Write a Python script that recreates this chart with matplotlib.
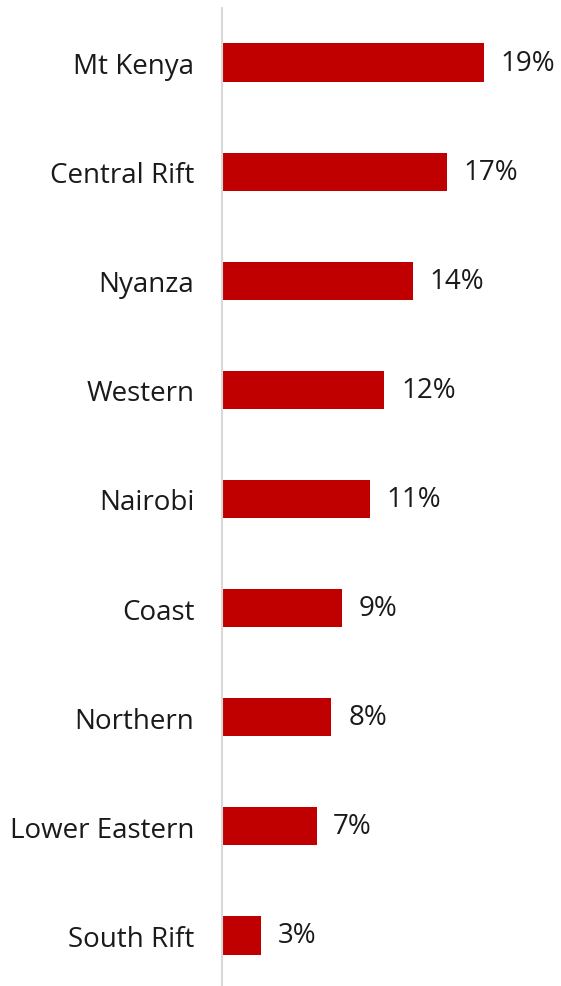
import matplotlib
matplotlib.use("Agg")
import matplotlib.pyplot as plt

# regional share
regions = ["Mt Kenya", "Central Rift", "Nyanza", "Western", "Nairobi",
           "Coast", "Northern", "Lower Eastern", "South Rift"]
shares = [19.3, 16.6, 14.1, 12.0, 10.9, 8.9, 8.1, 7.0, 2.9]
share_labels = ["19%", "17%", "14%", "12%", "11%", "9%", "8%", "7%", "3%"]

BAR_RED = "#C00000"
TEXT = "#1a1a1a"

plt.rcParams["font.family"] = ["Open Sans", "DejaVu Sans"]

fig = plt.figure(figsize=(5.61, 9.87), dpi=100)
left = 221.5 / 561
ax = fig.add_axes([left, -4 / 987, 1 - left, 982 / 987])

ypos = list(range(len(regions)))
bars = ax.barh(ypos, shares, height=0.35, color=BAR_RED)

for bar, lab in zip(bars, share_labels):
    ax.annotate(lab, (bar.get_width(), bar.get_y() + bar.get_height() / 2),
                xytext=(12, 0), textcoords="offset points",
                ha="left", va="center", fontsize=20, color=TEXT)

ax.set_yticks(ypos)
ax.set_yticklabels(regions, fontsize=20, color=TEXT)
ax.tick_params(axis="y", length=0, pad=19.5)
ax.set_xticks([])
ax.set_xlim(0, 25)
ax.set_ylim(len(regions) - 0.5, -0.5)

for side in ["top", "right", "bottom"]:
    ax.spines[side].set_visible(False)
ax.spines["left"].set_color("#d9d9d9")
ax.spines["left"].set_linewidth(1.5)

fig.savefig("out.png", dpi=100)
